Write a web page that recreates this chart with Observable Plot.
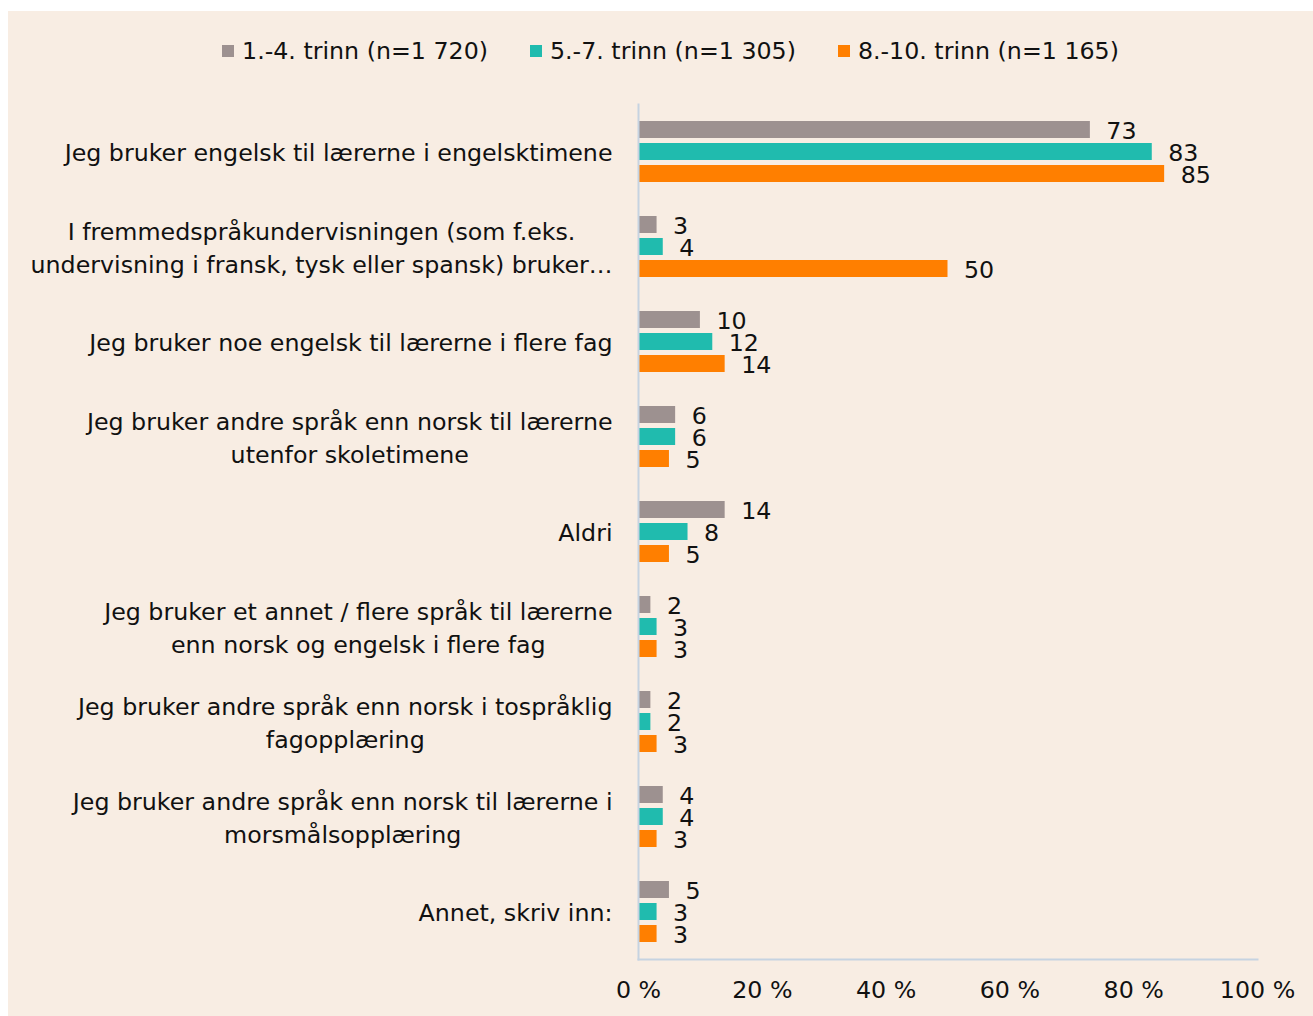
<!DOCTYPE html>
<html>
<head>
<meta charset="utf-8">
<script src="https://cdn.jsdelivr.net/npm/d3@7"></script>
<script src="https://cdn.jsdelivr.net/npm/@observablehq/plot@0.6"></script>
<style>
  html, body { margin: 0; padding: 0; background: #ffffff; }
  #wrap { position: absolute; left: 8px; top: 11px; width: 1305px; height: 1005px; background: #F8EDE3; overflow: hidden; font-family: "DejaVu Sans", sans-serif; color: #111; }
  #legend { height: 69px; padding-top: 10px; box-sizing: border-box; display: flex; justify-content: center; align-items: center; gap: 42px; padding-left: 20px; }
  .item { display: flex; align-items: center; gap: 8px; }
  .sw { width: 12px; height: 12px; display: inline-block; }
  svg { display: block; }
</style>
</head>
<body>
<div id="wrap">
  <div id="legend"></div>
  <div id="chart"></div>
</div>
<script>
const categories = [
  ["Jeg bruker engelsk til lærerne i engelsktimene"],
  ["I fremmedspråkundervisningen (som f.eks.", "undervisning i fransk, tysk eller spansk) bruker…"],
  ["Jeg bruker noe engelsk til lærerne i flere fag"],
  ["Jeg bruker andre språk enn norsk til lærerne", "utenfor skoletimene"],
  ["Aldri"],
  ["Jeg bruker et annet / flere språk til lærerne", "enn norsk og engelsk i flere fag"],
  ["Jeg bruker andre språk enn norsk i tospråklig", "fagopplæring"],
  ["Jeg bruker andre språk enn norsk til lærerne i", "morsmålsopplæring"],
  ["Annet, skriv inn:"]
];
const series = ["1.-4. trinn (n=1 720)", "5.-7. trinn (n=1 305)", "8.-10. trinn (n=1 165)"];
const colors = ["#9D9190", "#20BBAE", "#FF7F00"];
const values1_4 = [73, 3, 10, 6, 14, 2, 2, 4, 5];
const values5_7 = [83, 4, 12, 6, 8, 3, 2, 4, 3];
const values8_10 = [85, 50, 14, 5, 5, 3, 3, 3, 3];
const xTicks = [0, 20, 40, 60, 80, 100];

const FONT = '"DejaVu Sans", sans-serif';
const ctx = document.createElement("canvas").getContext("2d");
ctx.font = `100px ${FONT}`;
// size the text so the widest label line fits the space the reference uses
const widest = Math.max(...categories.flat().map(l => ctx.measureText(l).width));
const FS = Math.min(26, Math.max(18, 582 / widest * 100));
ctx.font = `${FS}px ${FONT}`;

// legend
const legend = document.getElementById("legend");
legend.style.fontSize = FS + "px";
series.forEach((s, i) => {
  const it = document.createElement("div");
  it.className = "item";
  it.innerHTML = `<span class="sw" style="background:${colors[i]}"></span><span>${s}</span>`;
  legend.appendChild(it);
});

const catKeys = categories.map(c => c.join(" "));
const allVals = [values1_4, values5_7, values8_10];
const data = [];
catKeys.forEach((c, ci) => series.forEach((s, si) => data.push({cat: c, series: s, value: allVals[si][ci]})));

const labelMarks = categories.map((lines, ci) => {
  const w = Math.max(...lines.map(l => ctx.measureText(l).width));
  return Plot.text([catKeys[ci]], {
    fy: d => d,
    x: () => 0,
    text: () => lines.join("\n"),
    textAnchor: "middle",
    lineAnchor: "middle",
    lineHeight: 1.38,
    dx: -(26 + w / 2),
    dy: -1,
    fontSize: FS,
    fill: "#111"
  });
});

const chart = Plot.plot({
  width: 1305,
  height: 936,
  marginLeft: 630,
  marginRight: 56,
  marginTop: 24,
  marginBottom: 57,
  style: {fontFamily: FONT, fontSize: FS + "px", background: "transparent", color: "#111"},
  x: {domain: [0, 100], ticks: xTicks, tickFormat: d => d + " %", tickSize: 0, tickPadding: 22, label: null},
  y: {domain: series, paddingInner: 0.23, paddingOuter: 0.77, axis: null},
  fy: {domain: catKeys, padding: 0, axis: null},
  color: {domain: series, range: colors},
  marks: [
    Plot.barX(data, {fy: "cat", y: "series", x: "value", fill: "series"}),
    Plot.text(data, {fy: "cat", y: "series", x: "value", text: d => String(d.value), dx: 16, dy: 1, textAnchor: "start", fontSize: FS, fill: "#111"}),
    ...labelMarks,
    Plot.frame({anchor: "left", facet: "super", stroke: "#C6D3E1", strokeWidth: 2}),
    Plot.frame({anchor: "bottom", facet: "super", stroke: "#C6D3E1", strokeWidth: 2})
  ]
});
document.getElementById("chart").appendChild(chart);
</script>
</body>
</html>
